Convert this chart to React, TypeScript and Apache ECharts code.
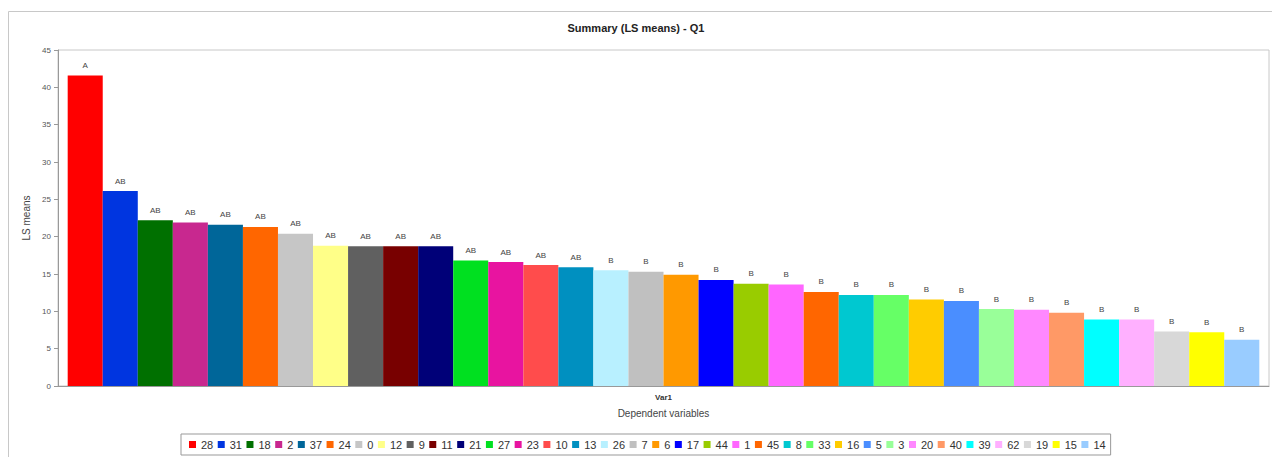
import React, { useEffect, useRef } from "react";
import * as echarts from "echarts";

const seriesNames = ["28","31","18","2","37","24","0","12","9","11","21","27","23","10","13","26","7","6","17","44","1","45","8","33","16","5","3","20","40","39","62","19","15","14"];
const lsMeans = [41.6,26.1,22.2,21.9,21.6,21.3,20.4,18.8,18.7,18.7,18.7,16.8,16.6,16.2,15.9,15.5,15.3,14.9,14.2,13.7,13.6,12.6,12.2,12.2,11.6,11.4,10.3,10.2,9.8,8.9,8.9,7.3,7.2,6.2];
const groups = ["A","AB","AB","AB","AB","AB","AB","AB","AB","AB","AB","AB","AB","AB","AB","B","B","B","B","B","B","B","B","B","B","B","B","B","B","B","B","B","B","B"];
const colors = ["#ff0000","#0035e0","#007000","#c8288f","#006699","#ff6600","#c6c6c6","#ffff88","#606060","#780000","#000078","#00e020","#e814a0","#ff4c4c","#0090c0","#b8f0ff","#c0c0c0","#ff9900","#0000ff","#99cc00","#ff66ff","#ff6600","#00c8d0","#66ff66","#ffcc00","#4a8eff","#99ff99","#ff88ff","#ff9966","#00ffff","#ffb0ff","#d8d8d8","#ffff00","#99ccff"];
const categories = ["Var1"];
const yTicks = { min: 0, max: 45, interval: 5 };

export default function App() {
  const ref = useRef<HTMLDivElement>(null);
  useEffect(() => {
    if (!ref.current) return;
    const chart = echarts.init(ref.current, null, { renderer: "svg" });
    const font = "Arial, 'Liberation Sans', sans-serif";
    chart.setOption({
      animation: false,
      backgroundColor: "#ffffff",
      title: {
        text: "Summary (LS means) - Q1",
        left: "center",
        top: 17,
        textStyle: { fontSize: 11, fontWeight: "bold", color: "#222", fontFamily: font },
      },
      graphic: [
        {
          type: "rect",
          shape: { x: 8.5, y: 11.5, width: 1300, height: 500 },
          style: { fill: "none", stroke: "#c8c8c8", lineWidth: 1 },
          silent: true,
        },
      ],
      grid: {
        left: 58, top: 50, right: 3, bottom: 71,
        show: true, borderColor: "#c8c8c8", borderWidth: 1, backgroundColor: "transparent",
      },
      legend: {
        data: seriesNames,
        left: 181,
        top: 434,
        itemWidth: 7,
        itemHeight: 7,
        itemGap: 4.5,
        icon: "rect",
        padding: [5, 5, 5, 8],
        borderColor: "#999",
        borderWidth: 1,
        textStyle: { fontSize: 11, color: "#333", fontFamily: "'Liberation Sans', Arial, sans-serif" },
      },
      xAxis: {
        type: "category",
        data: categories,
        name: "Dependent variables",
        nameLocation: "middle",
        nameGap: 22,
        nameTextStyle: { fontSize: 10, color: "#444", fontFamily: font },
        axisLine: { lineStyle: { color: "#999" } },
        axisTick: { show: false },
        axisLabel: { fontSize: 8, fontWeight: "bold", color: "#333", margin: 7, fontFamily: font },
      },
      yAxis: {
        type: "value",
        min: yTicks.min,
        max: yTicks.max,
        interval: yTicks.interval,
        name: "LS means",
        nameLocation: "middle",
        nameGap: 20,
        nameRotate: 90,
        nameTextStyle: { fontSize: 10, color: "#444", fontFamily: font },
        axisLine: { show: true, lineStyle: { color: "#999" } },
        axisTick: { show: true, inside: false, length: 4, lineStyle: { color: "#999" } },
        axisLabel: { fontSize: 8, color: "#555", margin: 7, fontFamily: font },
        splitLine: { show: false },
      },
      series: seriesNames.map((name, i) => ({
        name,
        type: "bar",
        data: [lsMeans[i]],
        barGap: "0%",
        barCategoryGap: "1.6%",
        itemStyle: { color: colors[i] },
        label: {
          show: true,
          position: "top",
          distance: 6,
          formatter: () => groups[i],
          fontSize: 8,
          color: "#444",
          fontFamily: font,
        },
      })),
    });
    return () => chart.dispose();
  }, []);
  return (
    <div
      ref={ref}
      style={{ position: "absolute", left: 0, top: 0, width: 1272, height: 457 }}
    />
  );
}
